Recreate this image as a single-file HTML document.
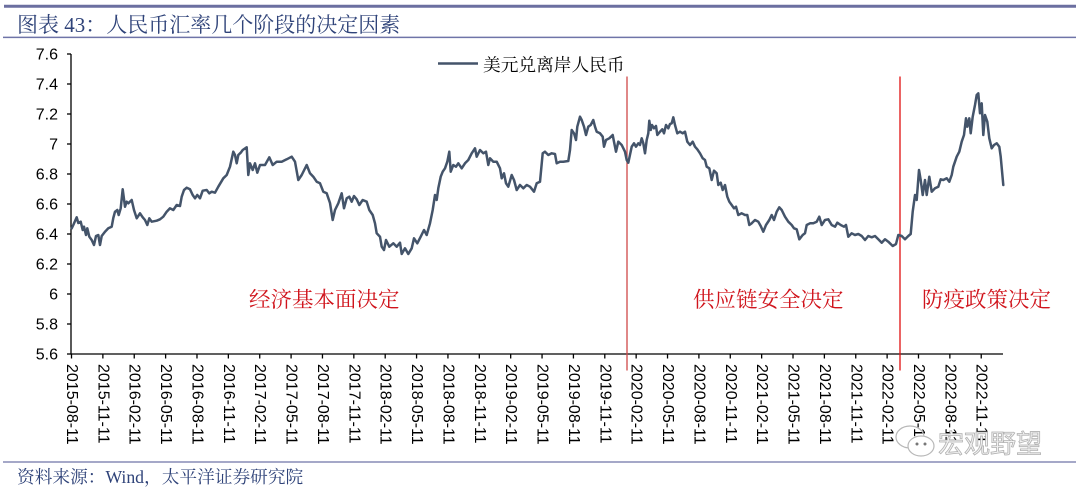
<!DOCTYPE html>
<html>
<head>
<meta charset="utf-8">
<style>
  html,body{margin:0;padding:0;background:#fff;}
  svg{display:block;}
</style>
</head>
<body>
<svg width="1080" height="491" viewBox="0 0 1080 491" xmlns="http://www.w3.org/2000/svg">
  <!-- header lines -->
  <line x1="4" y1="6.3" x2="1076" y2="6.3" stroke="#6b6fa0" stroke-width="3"/>
  <text x="17" y="32" font-family="'Liberation Serif','Noto Serif CJK SC',serif" font-size="21" fill="#2f4379">图表 43：人民币汇率几个阶段的决定因素</text>
  <line x1="3" y1="37.4" x2="1076" y2="37.4" stroke="#6f74a8" stroke-width="1.5"/>

  <!-- y axis -->
  <g stroke="#000" stroke-width="1.3">
    <line x1="71" y1="54" x2="71" y2="354.6"/>
    <line x1="71" y1="354" x2="1003" y2="354"/>
    <line x1="67" y1="54" x2="71" y2="54"/>
    <line x1="67" y1="84" x2="71" y2="84"/>
    <line x1="67" y1="114" x2="71" y2="114"/>
    <line x1="67" y1="144" x2="71" y2="144"/>
    <line x1="67" y1="174" x2="71" y2="174"/>
    <line x1="67" y1="204" x2="71" y2="204"/>
    <line x1="67" y1="234" x2="71" y2="234"/>
    <line x1="67" y1="264" x2="71" y2="264"/>
    <line x1="67" y1="294" x2="71" y2="294"/>
    <line x1="67" y1="324" x2="71" y2="324"/>
    <line x1="67" y1="354" x2="71" y2="354"/>
  </g>
  <g font-family="'Liberation Sans',Arial,sans-serif" font-size="16" fill="#000" text-anchor="end">
    <text x="58" y="59.7">7.6</text>
    <text x="58" y="89.7">7.4</text>
    <text x="58" y="119.7">7.2</text>
    <text x="58" y="149.7">7</text>
    <text x="58" y="179.7">6.8</text>
    <text x="58" y="209.7">6.6</text>
    <text x="58" y="239.7">6.4</text>
    <text x="58" y="269.7">6.2</text>
    <text x="58" y="299.7">6</text>
    <text x="58" y="329.7">5.8</text>
    <text x="58" y="359.7">5.6</text>
  </g>

  <!-- x ticks -->
  <g stroke="#000" stroke-width="1.3">
    <line x1="71.5" y1="354" x2="71.5" y2="358.5"/>
    <line x1="102.87" y1="354" x2="102.87" y2="358.5"/>
    <line x1="134.24" y1="354" x2="134.24" y2="358.5"/>
    <line x1="165.61" y1="354" x2="165.61" y2="358.5"/>
    <line x1="196.98" y1="354" x2="196.98" y2="358.5"/>
    <line x1="228.35" y1="354" x2="228.35" y2="358.5"/>
    <line x1="259.72" y1="354" x2="259.72" y2="358.5"/>
    <line x1="291.09" y1="354" x2="291.09" y2="358.5"/>
    <line x1="322.46" y1="354" x2="322.46" y2="358.5"/>
    <line x1="353.83" y1="354" x2="353.83" y2="358.5"/>
    <line x1="385.2" y1="354" x2="385.2" y2="358.5"/>
    <line x1="416.57" y1="354" x2="416.57" y2="358.5"/>
    <line x1="447.94" y1="354" x2="447.94" y2="358.5"/>
    <line x1="479.31" y1="354" x2="479.31" y2="358.5"/>
    <line x1="510.68" y1="354" x2="510.68" y2="358.5"/>
    <line x1="542.05" y1="354" x2="542.05" y2="358.5"/>
    <line x1="573.42" y1="354" x2="573.42" y2="358.5"/>
    <line x1="604.79" y1="354" x2="604.79" y2="358.5"/>
    <line x1="636.16" y1="354" x2="636.16" y2="358.5"/>
    <line x1="667.53" y1="354" x2="667.53" y2="358.5"/>
    <line x1="698.9" y1="354" x2="698.9" y2="358.5"/>
    <line x1="730.27" y1="354" x2="730.27" y2="358.5"/>
    <line x1="761.64" y1="354" x2="761.64" y2="358.5"/>
    <line x1="793.01" y1="354" x2="793.01" y2="358.5"/>
    <line x1="824.38" y1="354" x2="824.38" y2="358.5"/>
    <line x1="855.75" y1="354" x2="855.75" y2="358.5"/>
    <line x1="887.12" y1="354" x2="887.12" y2="358.5"/>
    <line x1="918.49" y1="354" x2="918.49" y2="358.5"/>
    <line x1="949.86" y1="354" x2="949.86" y2="358.5"/>
    <line x1="981.23" y1="354" x2="981.23" y2="358.5"/>
  </g>
  <g font-family="'Liberation Sans',Arial,sans-serif" font-size="16" fill="#000" dominant-baseline="central">
    <text transform="translate(71.5,364) rotate(90)">2015-08-11</text>
    <text transform="translate(102.87,364) rotate(90)">2015-11-11</text>
    <text transform="translate(134.24,364) rotate(90)">2016-02-11</text>
    <text transform="translate(165.61,364) rotate(90)">2016-05-11</text>
    <text transform="translate(196.98,364) rotate(90)">2016-08-11</text>
    <text transform="translate(228.35,364) rotate(90)">2016-11-11</text>
    <text transform="translate(259.72,364) rotate(90)">2017-02-11</text>
    <text transform="translate(291.09,364) rotate(90)">2017-05-11</text>
    <text transform="translate(322.46,364) rotate(90)">2017-08-11</text>
    <text transform="translate(353.83,364) rotate(90)">2017-11-11</text>
    <text transform="translate(385.2,364) rotate(90)">2018-02-11</text>
    <text transform="translate(416.57,364) rotate(90)">2018-05-11</text>
    <text transform="translate(447.94,364) rotate(90)">2018-08-11</text>
    <text transform="translate(479.31,364) rotate(90)">2018-11-11</text>
    <text transform="translate(510.68,364) rotate(90)">2019-02-11</text>
    <text transform="translate(542.05,364) rotate(90)">2019-05-11</text>
    <text transform="translate(573.42,364) rotate(90)">2019-08-11</text>
    <text transform="translate(604.79,364) rotate(90)">2019-11-11</text>
    <text transform="translate(636.16,364) rotate(90)">2020-02-11</text>
    <text transform="translate(667.53,364) rotate(90)">2020-05-11</text>
    <text transform="translate(698.9,364) rotate(90)">2020-08-11</text>
    <text transform="translate(730.27,364) rotate(90)">2020-11-11</text>
    <text transform="translate(761.64,364) rotate(90)">2021-02-11</text>
    <text transform="translate(793.01,364) rotate(90)">2021-05-11</text>
    <text transform="translate(824.38,364) rotate(90)">2021-08-11</text>
    <text transform="translate(855.75,364) rotate(90)">2021-11-11</text>
    <text transform="translate(887.12,364) rotate(90)">2022-02-11</text>
    <text transform="translate(918.49,364) rotate(90)">2022-05-11</text>
    <text transform="translate(949.86,364) rotate(90)">2022-08-11</text>
    <text transform="translate(981.23,364) rotate(90)">2022-11-11</text>
  </g>

  <!-- red separators -->
  <line x1="627" y1="76.5" x2="627" y2="370.5" stroke="#d04848" stroke-width="1.3"/>
  <line x1="900" y1="76.5" x2="900" y2="370.5" stroke="#e01010" stroke-width="1.3"/>

  <!-- data line -->
  <polyline fill="none" stroke="#44546a" stroke-width="2.5" stroke-linejoin="round" stroke-linecap="round" points="
71.7,228.3 73.3,225 76.7,217.3 78.3,223 80.7,221.7 82.7,230 84,226.7 86,235 87.3,228.3 89.3,236.7 91.7,240 94,245 96,236 98.3,235 100,245 101.7,236 105,231.7 108.3,228.3 111.7,226.7 113.3,218 115,211.7 117.3,210 118.7,215 120.7,208.3 122.7,189.3 125,206.7 126.7,201.7 128.3,203.3 131.7,200 134,210 136.7,218.3 140,213.3 142.7,217.3 145,220 147.3,225 149.3,218.3 151.7,221.7 156.7,220.7 160,219.3 163.3,216.7 166.7,211.7 170,208.3 173.3,210 176.7,205 180,206 181.7,196.7 184,190 186.7,187.7 190,189.3 192.7,195 195,198.3 197.3,195 200,198.3 202.7,190.7 206.7,190 209.3,193.3 211.7,191.7 215,192.7 218.3,186.7 223.3,178.3 226.7,175 230,166.7 233.3,151.7 235,155 236.7,163.3 238.3,155 240.7,152.7 242.7,150 246.7,147.3 248.3,175 250,163.3 252.7,170 255,163.3 257.3,172.7 260,165 265,165 269.3,157.3 272.7,165 276.7,161.7 281.7,161.7 286.7,159.3 291.7,156.7 295,161.7 298.3,180 301.7,175 306.7,165 310,173.3 313.3,176.7 316.7,181.7 320,183.3 323.3,191.7 326.7,193.3 330,203
332.7,220 335,210 338.3,203.3 341.7,193.3 344,208.3 346.7,198.3 349.3,196.7 351.7,201.7 354,196 356.7,199.3 359.3,205 362.7,200 366.7,201.7 369.3,210 372.7,215 375,223.3 376.7,233.3 380,236.7 381.7,246.7 384,250 386,240 389.3,246.7 393.3,243.3 396.7,246.7 400,242.7 401.7,254 405,248.3 408.3,254 411.7,248.3 414,238.3 417.3,243.3 420.7,236.7 424,230 426.7,235 430,223.3 432.7,210 435,195 436.7,200 438.3,188.3 440.7,176.7 442.7,171.7 445,168.3 447.3,161.7 449.3,151.7 450.7,171.7 453.3,165 456,166.7 458.3,163.3 461.7,168.3 465,163.3 468.3,160 471.7,153.3 475,148.3 476.7,156.7 480,150 483.3,153.3 486,151.7 488.3,165 490,158.3 493.3,161.7 496.7,161.7 500,168.3 501.7,178.3 504,173.3 506,183.3 508.3,186.7 511.7,175 514,180 516.7,190 520,185 523.3,188.3 526.7,185 530,186.7 534,191.7 536.7,183.3 540,181.7 542.7,153.3 545,151.7 548.3,155 551.7,153.3 555,154 556.7,163.3 560,161.7 563.3,161.7 568.3,161 570,150 571.7,130 574,133.3 576,140 577.3,126.7 580,116.7 581.7,120 584,126.7 586,135 588.3,126.7 590.7,125 593.3,120 595,126.7 596.7,131.7 600,133.3 602.7,136.7 604,146.7 606,140 609.3,138.3 612.7,135 614,141.7 616,151.7 618.3,141.7 621.7,145 625,151.7 626.7,160 628.3,162.7
631.7,146.7 634,143.3 636,146.7 638.3,143.3 640,145 641.7,138.3 643.3,143.3 645,153.3 646.7,140 648.3,133.3 649.3,120.7 650.7,130 652,125 654,128.3 656,126 657.3,135 660,131.7 662.3,129.3 664,133.3 666,125 668.3,128.3 670,124 671.7,123.3 673.3,117.3 675,125 677.3,133.3 680,131.7 682.7,133.3 685,131.7 687.3,141.7 690,145 692.7,141.7 695,146.7 697.3,149.3 700,153.3 702.7,158.3 705,160 706.7,166.7 709.3,168.3 711.7,180 714,170.7 716.7,173.3 718.3,185 720.7,182.7 722.7,190 725,185 727.3,196.7 729.3,201.7 731.7,205 734,208.3 736,206.7 738.3,215 741.7,213.3 745,215 747.3,215 749.3,225 751.7,223.3 755,220 758.3,221.7 760.7,226 763.3,231.7 766,225 769.3,220 771.7,215 774,220 776.7,211.7 779.3,207.3 781.7,210 785,216.7 788.3,221.7 791.7,225 794,228.3 796.7,229.3 799.3,239.3 802.7,235 805,233.3 806.7,225 810,223.3 813.3,223.3 816.7,221.7 819.3,216.7 821.7,225 825,220 828.3,219.3 831.7,225 835,226.7 837.3,222.7 840.7,225 844,226.7
846,225 848.3,236.7 851.7,233.3 855,235 858.3,234 861.7,236 865,240 868.3,236 871.7,237.3 875,236 878.3,239.3 881.7,242.7 885,239.3 888.3,241.7 892.7,246 896,244 898.3,235 901.7,236 905,239.3 908.3,236 910.7,234 912.7,211.7 915,195 916.7,200 919,170 920.7,180 922.7,195 925,180 926.7,195 929.3,176.7 931.7,191.7 935,188.3 938.3,186.7 940.7,179.3 943.3,180 946.7,178.3 949.3,181.7 951.7,175 953.3,166.7 956.7,156.7 959.3,151.7 961.7,141.7 964,135 966,118.3 967.3,126.7 969.3,118.3 970.7,133.3 972.7,116.7 975,105 976.7,95 978.3,93.3 980,113.3 981.7,103.3 983.3,135 985,115 987.3,121.7 989.3,138.3 991.7,148.3 994,145 996.7,143.3 999.3,146.7 1000.7,156.7 1003.3,185"/>

  <!-- legend -->
  <line x1="438" y1="63.5" x2="478" y2="63.5" stroke="#44546a" stroke-width="2.5"/>
  <text x="483" y="71" font-family="'Liberation Serif','Noto Serif CJK SC',serif" font-size="17.7" fill="#000">美元兑离岸人民币</text>

  <!-- annotations -->
  <g font-family="'Liberation Serif','Noto Serif CJK SC',serif" font-size="21.5" fill="#d0141c">
    <text x="249" y="307">经济基本面决定</text>
    <text x="693" y="307">供应链安全决定</text>
    <text x="922" y="307">防疫政策决定</text>
  </g>

  <!-- watermark -->
  <g fill="none" stroke="#b8b8b8" stroke-width="1.2">
    <ellipse cx="910" cy="437" rx="14" ry="11"/>
    <ellipse cx="921" cy="446" rx="13" ry="10" fill="#fff"/>
  </g>
  <g fill="#777">
    <circle cx="917" cy="444" r="1.5"/>
    <circle cx="925" cy="444" r="1.5"/>
  </g>
  <text x="938" y="453" font-family="'Noto Sans CJK SC',sans-serif" font-size="26" fill="#f2f2f2" stroke="#b0b0b0" stroke-width="0.8">宏观野望</text>

  <!-- footer -->
  <line x1="3" y1="462" x2="1076" y2="462" stroke="#6f74a8" stroke-width="1.2"/>
  <text x="17" y="483" font-family="'Liberation Serif','Noto Serif CJK SC',serif" font-size="17.7" fill="#2f4379">资料来源：Wind，太平洋证券研究院</text>
</svg>
</body>
</html>
